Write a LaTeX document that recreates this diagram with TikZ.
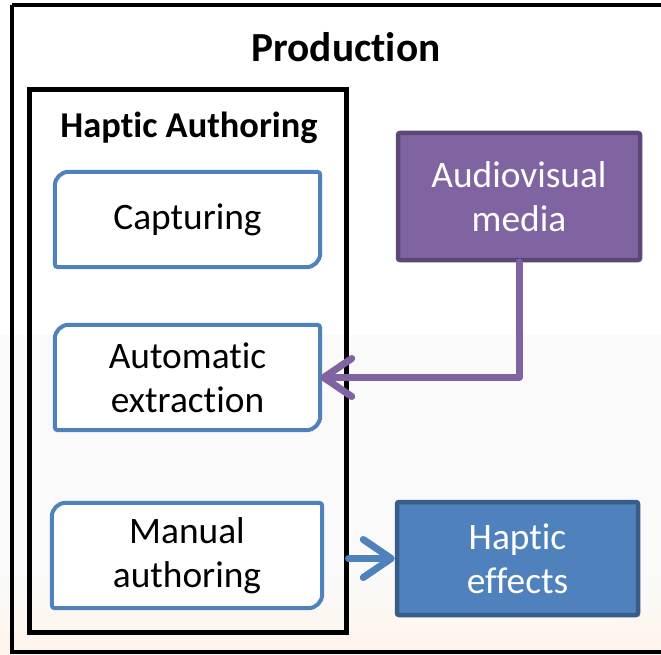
\documentclass[tikz,border=0pt]{standalone}
\usepackage{fontspec}
\setmainfont{Carlito}[Ligatures={NoCommon}]
\usetikzlibrary{arrows.meta,shadows}

\definecolor{authblue}{HTML}{4F81BD}
\definecolor{authblueedge}{HTML}{385D8A}
\definecolor{avpurple}{HTML}{8064A2}
\definecolor{avpurpleedge}{HTML}{5C4776}

\tikzset{
  titletext/.style={font=\bfseries\fontsize{41.5}{50}\selectfont},
  subtitletext/.style={font=\bfseries\fontsize{36.5}{44}\selectfont},
  steptext/.style={align=center, font=\fontsize{37.5}{44.5}\selectfont, inner sep=0pt},
  authline/.style={draw=authblue, line width=4bp, fill=white},
  solidbox/.style={align=center, font=\fontsize{37.5}{44.5}\selectfont, text=white,
    line width=4.5bp, rounded corners=2bp, inner sep=0pt,
    drop shadow={opacity=0.25, shadow xshift=2bp, shadow yshift=-2bp}},
  flow/.style={line width=7bp, line cap=round, line join=round,
    -{Straight Barb[length=28bp, width=38bp, round]}},
}

% step box: large rounding on two diagonal corners, small on the other two
\newcommand\stepoutline[1]{%
  \path[authline] (#1.west) [rounded corners=14bp] |- (#1.north)
    [rounded corners=3bp] -| (#1.east)
    [rounded corners=14bp] |- (#1.south)
    [rounded corners=3bp] -| (#1.west) -- cycle;}

\begin{document}
\begin{tikzpicture}[x=1bp, y=-1bp]
  \useasboundingbox (0,0) rectangle (661,655);
  \clip (0,0) rectangle (661,655);

  % backdrop
  \fill[white] (0,0) rectangle (661,655);
  \fill[black!2] (0,335) rectangle (661,655);
  \shade[top color=black!2, bottom color=orange!8] (0,570) rectangle (661,655);

  % outer frame (runs past the right edge)
  \draw[line width=4bp] (12,5) -- (700,5) (12,5) -- (12,652) -- (700,652);
  \node[titletext] (prod) at (346,47) {Production};

  % haptic authoring group
  \node[draw, line width=5bp, minimum width=316bp, minimum height=542bp,
        inner sep=0pt] (hab) at (188,361) {};
  \node[subtitletext] (habtitle) at (189,128) {Haptic Authoring};

  % authoring steps
  \node[minimum width=265bp, minimum height=95bp, inner sep=0pt] (cap) at (187.5,219.5) {};
  \stepoutline{cap}
  \node[steptext] at (cap) {Capturing};

  \node[minimum width=265bp, minimum height=105bp, inner sep=0pt] (auto) at (187.5,377.5) {};
  \stepoutline{auto}
  \node[steptext] at (auto) {Automatic\\extraction};

  \node[minimum width=270bp, minimum height=105bp, inner sep=0pt] (man) at (187,555.5) {};
  \stepoutline{man}
  \node[steptext] at (man) {Manual\\authoring};

  % inputs and outputs
  \node[solidbox, fill=avpurple, draw=avpurpleedge,
        minimum width=242bp, minimum height=127bp] (av) at (519,196.5)
        {Audiovisual\\media};
  \node[solidbox, fill=authblue, draw=authblueedge,
        minimum width=241bp, minimum height=113bp] (he) at (517.5,558.5)
        {Haptic\\effects};

  % connectors
  \draw[flow, avpurple] (av.south) |- (auto.east);
  \draw[flow, authblue] (hab.east |- he.west) -- (he.west);
\end{tikzpicture}
\end{document}
